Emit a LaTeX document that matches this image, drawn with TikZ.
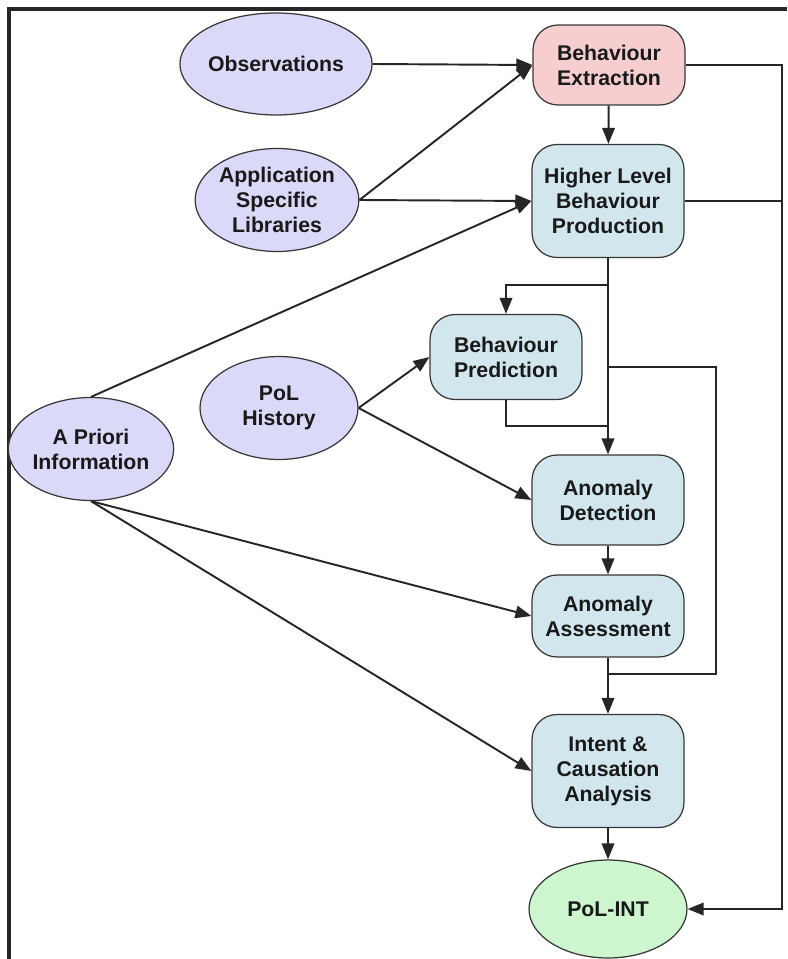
\documentclass[tikz,border=0pt]{standalone}
\usepackage{fontspec}
\setmainfont{Liberation Sans}
\usetikzlibrary{shapes.geometric,arrows.meta,calc}
\definecolor{srcfill}{RGB}{218,218,248}
\definecolor{extfill}{RGB}{246,206,208}
\definecolor{procfill}{RGB}{210,231,237}
\definecolor{outfill}{RGB}{206,246,206}
\definecolor{edge}{RGB}{55,55,55}
\tikzset
{
    % Style for every text in the chart
    chart text/.style=
    {
        align=center,
        text=black!90,
        font=\bfseries\fontsize{12.1pt}{14.2pt}\selectfont
    },
    % Style for the sources of information
    source/.style=
    {
        chart text,
        shape=ellipse,
        draw=edge,
        line width=0.7pt,
        fill=srcfill,
        inner sep=0pt,
        minimum width=3.16cm,
        minimum height=2.06cm
    },
    % Style for a processing step
    process/.style=
    {
        chart text,
        shape=rectangle,
        rounded corners=0.5cm,
        draw=edge,
        line width=0.7pt,
        fill=procfill,
        inner sep=0pt,
        minimum width=3.04cm,
        minimum height=1.7cm
    },
    % Style for the final product
    product/.style=
    {
        source,
        fill=outfill
    },
    % Style for a flow of information
    flow/.style=
    {
        line width=1.1pt,
        draw=black!85,
        -{Triangle[length=0.32cm,width=0.25cm]}
    },
    % Style for a flow that only joins another one
    merge flow/.style=
    {
        flow,
        -
    }
}

\begin{document}
\begin{tikzpicture}[x=0.02cm, y=-0.02cm]
    % Bounding box in pixels of the original
    \path [use as bounding box] (0,0) rectangle (787,959);

    % Frame
    \draw[line width=0.08cm, black!85] (9,959) -- (9,9) -- (787,9);

    % Sources
    \node (Obs) [source, minimum width=3.84cm, minimum height=2.04cm] at (276,64) {Observations};
    \node (ASL) [source] at (277,200) {Application\\Specific\\Libraries};
    \node (API) [source] at (91,449) {A Priori\\Information};
    \node (PoLH) [source] at (279,408) {PoL\\History};

    % Processing steps
    \node (BE) [process, fill=extfill, minimum height=1.6cm] at (609,65) {Behaviour\\Extraction};
    \node (HLBP) [process, minimum height=2.26cm] at (608,201) {Higher Level\\Behaviour\\Production};
    \node (BP) [process] at (506,357) {Behaviour\\Prediction};
    \node (AD) [process, minimum height=1.8cm] at (608,500) {Anomaly\\Detection};
    \node (AA) [process, minimum height=1.64cm] at (608,616) {Anomaly\\Assessment};
    \node (ICA) [process, minimum height=2.26cm] at (608,771) {Intent \&\\Causation\\Analysis};

    % Product
    \node (PoLINT) [product, minimum height=1.96cm] at (608,909) {PoL-INT};

    % Bend points
    \coordinate (S1) at (608,285);
    \coordinate (S2) at (608,367);
    \coordinate (R2) at (716,367);
    \coordinate (R3) at (716,674);
    \coordinate (S3) at (608,674);
    \coordinate (P2) at (608,426);
    \coordinate (E1) at (782,65);
    \coordinate (E2) at (782,201);
    \coordinate (E3) at (782,909);

    % Inputs into the chain
    \draw[flow] (Obs.east) -- (BE.west);
    \draw[flow] (ASL.east) -- (BE.west);
    \draw[flow] (ASL.east) -- (HLBP.west);
    \draw[flow] (API.north) -- (HLBP.west);
    \draw[flow] (PoLH.east) -- (BP.west);
    \draw[flow] (PoLH.east) -- (AD.west);
    \draw[flow] (API.south) -- (AA.west);
    \draw[flow] (API.south) -- (ICA.west);

    % Main chain
    \draw[flow] (BE) -- (HLBP);
    \draw[flow] (HLBP) -- (AD);
    \draw[flow] (S1) -| (BP.north);
    \draw[merge flow] (BP.south) |- (P2);
    \draw[merge flow] (S2) -- (R2) -- (R3) -- (S3);
    \draw[flow] (AD) -- (AA);
    \draw[flow] (AA) -- (ICA);
    \draw[flow] (ICA) -- (PoLINT);

    % Bypass to the product
    \draw[merge flow] (BE.east) -- (E1) -- (E2);
    \draw[flow] (HLBP.east) -- (E2) -- (E3) -- (PoLINT.east);
\end{tikzpicture}
\end{document}
